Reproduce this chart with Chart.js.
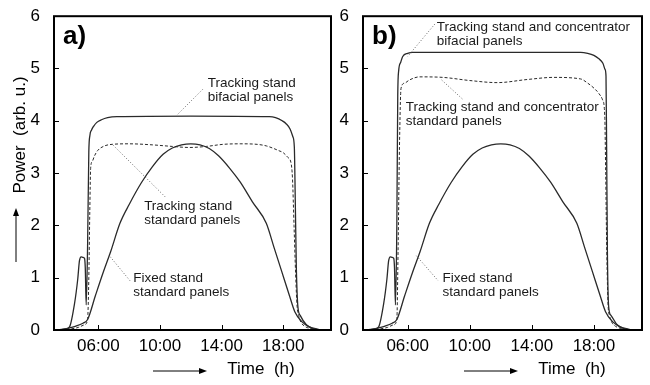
<!DOCTYPE html>
<html>
<head>
<meta charset="utf-8">
<script src="https://cdn.jsdelivr.net/npm/chart.js@4/dist/chart.umd.min.js"></script>
<style>
  body { margin: 0; background: #fff; }
  #wrap { position: relative; width: 650px; height: 385px; }
  canvas { position: absolute; top: 0; }
  #chartA { left: 0; }
  #chartB { left: 335px; }
</style>
</head>
<body>
<div id="wrap">
  <canvas id="chartA" width="335" height="385"></canvas>
  <canvas id="chartB" width="315" height="385"></canvas>
</div>
<script>
// Axis ticks
const tickHours = [6, 10, 14, 18];
const powerTicks = [0, 1, 2, 3, 4, 5, 6];

// Fixed stand, standard panels (both panels)
const fixedHours = [3.4, 4.0, 4.5, 5.0, 5.3, 5.8, 6.3, 6.8, 7.4, 8.0, 8.8, 9.5, 10.2, 10.8, 11.4, 12.0, 12.6, 13.2, 13.8, 14.5, 15.2, 16.0, 16.9, 17.4, 17.9, 18.4, 18.75, 19.2, 19.7, 20.3];
const fixedPower = [0, 0.03, 0.07, 0.13, 0.2, 0.65, 1.09, 1.5, 2.04, 2.4, 2.82, 3.12, 3.36, 3.48, 3.54, 3.56, 3.54, 3.47, 3.33, 3.1, 2.83, 2.45, 2.04, 1.58, 1.12, 0.66, 0.35, 0.16, 0.06, 0.01];

// a) Tracking stand, bifacial panels
const trackBifHours = [3.5, 3.9, 4.13, 4.45, 4.66, 4.77, 4.88, 5.0, 5.1, 5.15, 5.21, 5.3, 5.38, 5.45, 5.55, 5.7, 5.9, 6.2, 6.6, 7.2, 12.0, 17.1, 17.5, 17.93, 18.2, 18.45, 18.62, 18.72, 18.78, 18.85, 18.95, 19.1, 19.5, 19.9, 20.4];
const trackBifPower = [0, 0.02, 0.06, 0.5, 0.97, 1.32, 1.40, 1.39, 1.37, 1.19, 0.48, 1.6, 3.4, 3.72, 3.82, 3.9, 3.97, 4.02, 4.06, 4.08, 4.09, 4.08, 4.06, 4.0, 3.94, 3.84, 3.7, 3.5, 2.5, 1.2, 0.45, 0.28, 0.1, 0.03, 0];

// a) Tracking stand, standard panels
const trackStdHours = [3.6, 4.2, 4.7, 5.1, 5.3, 5.38, 5.44, 5.5, 5.6, 5.75, 5.95, 6.4, 6.9, 8.0, 9.5, 10.8, 11.9, 13.0, 14.1, 15.2, 16.3, 16.9, 17.3, 17.7, 18.0, 18.3, 18.5, 18.6, 18.7, 18.8, 18.9, 19.0, 19.15, 19.4, 19.9, 20.3];
const trackStdPower = [0, 0.02, 0.05, 0.1, 0.2, 1.0, 2.2, 3.1, 3.22, 3.33, 3.43, 3.52, 3.55, 3.56, 3.54, 3.51, 3.49, 3.51, 3.55, 3.56, 3.55, 3.52, 3.48, 3.43, 3.39, 3.3, 3.2, 2.9, 2.0, 1.1, 0.45, 0.28, 0.15, 0.07, 0.02, 0];

// b) Tracking stand and concentrator, bifacial panels
const concBifHours = [3.5, 3.9, 4.13, 4.45, 4.66, 4.77, 4.88, 5.0, 5.1, 5.15, 5.21, 5.3, 5.36, 5.42, 5.55, 5.68, 6.0, 6.32, 7.0, 12.0, 17.15, 17.6, 18.0, 18.3, 18.58, 18.72, 18.78, 18.82, 18.87, 18.95, 19.1, 19.5, 19.9, 20.4];
const concBifPower = [0, 0.02, 0.06, 0.5, 0.97, 1.32, 1.40, 1.39, 1.37, 1.19, 0.48, 2.0, 4.5, 4.96, 5.12, 5.23, 5.29, 5.31, 5.31, 5.31, 5.31, 5.29, 5.25, 5.19, 5.1, 4.98, 4.85, 3.5, 1.5, 0.45, 0.28, 0.1, 0.03, 0];

// b) Tracking stand and concentrator, standard panels
const concStdHours = [3.6, 4.2, 4.7, 5.1, 5.3, 5.38, 5.47, 5.57, 5.8, 6.11, 6.76, 8.27, 10.0, 11.77, 13.72, 15.4, 17.15, 17.6, 18.02, 18.3, 18.56, 18.7, 18.76, 18.83, 18.92, 19.0, 19.15, 19.4, 19.9, 20.3];
const concStdPower = [0, 0.02, 0.05, 0.1, 0.2, 1.5, 3.5, 4.62, 4.72, 4.78, 4.84, 4.83, 4.77, 4.73, 4.79, 4.83, 4.8, 4.72, 4.62, 4.53, 4.4, 4.1, 3.0, 1.5, 0.45, 0.28, 0.15, 0.07, 0.02, 0];

const family = '"Liberation Sans", Arial, sans-serif';
Chart.defaults.font.family = family;

function curve(hours, power, dashed) {
  return {
    data: hours.map((h, i) => ({ x: h, y: power[i] })),
    borderColor: '#2a2a2a',
    borderWidth: dashed ? 1 : 1.3,
    borderDash: dashed ? [3, 2] : [],
    pointRadius: 0,
    cubicInterpolationMode: 'monotone',
    fill: false
  };
}

function arrow(ctx, x1, y1, x2, y2) {
  const len = Math.hypot(x2 - x1, y2 - y1);
  ctx.save();
  ctx.translate(x2, y2);
  ctx.rotate(Math.atan2(y2 - y1, x2 - x1));
  ctx.strokeStyle = '#000';
  ctx.fillStyle = '#000';
  ctx.lineWidth = 1;
  ctx.beginPath();
  ctx.moveTo(-len, 0);
  ctx.lineTo(-5, 0);
  ctx.stroke();
  ctx.beginPath();
  ctx.moveTo(0, 0);
  ctx.lineTo(-8, -3);
  ctx.lineTo(-8, 3);
  ctx.closePath();
  ctx.fill();
  ctx.restore();
}

// frame, inward ticks, labels and titles
const decor = {
  id: 'decor',
  afterDraw(chart, args, o) {
    const ctx = chart.ctx, a = chart.chartArea;
    const xs = chart.scales.x, ys = chart.scales.y;
    ctx.save();
    ctx.strokeStyle = '#000';
    ctx.lineWidth = 1;
    ctx.beginPath();
    xs.ticks.forEach(t => {
      const px = Math.round(xs.getPixelForValue(t.value)) + 0.5;
      ctx.moveTo(px, a.bottom);
      ctx.lineTo(px, a.bottom - 5);
    });
    ys.ticks.forEach(t => {
      const py = Math.round(ys.getPixelForValue(t.value)) + 0.5;
      ctx.moveTo(a.left, py);
      ctx.lineTo(a.left + 5, py);
    });
    ctx.stroke();
    ctx.lineWidth = 2;
    ctx.strokeRect(a.left, a.top, a.right - a.left, a.bottom - a.top);

    ctx.font = '13.5px ' + family;
    o.notes.forEach(n => {
      ctx.strokeStyle = '#666';
      ctx.lineWidth = 1;
      ctx.setLineDash([1, 2]);
      ctx.beginPath();
      ctx.moveTo(xs.getPixelForValue(n.from[0]), ys.getPixelForValue(n.from[1]));
      ctx.lineTo(xs.getPixelForValue(n.to[0]), ys.getPixelForValue(n.to[1]));
      ctx.stroke();
      ctx.setLineDash([]);
      ctx.fillStyle = '#1a1a1a';
      const nx = xs.getPixelForValue(n.x), ny = ys.getPixelForValue(n.y);
      n.lines.forEach((s, i) => ctx.fillText(s, nx, ny + i * 14));
    });

    ctx.fillStyle = '#000';
    ctx.font = 'bold 26px ' + family;
    ctx.fillText(o.panel, a.left + 9, a.top + 28);

    const cx = a.right - 70;
    ctx.font = '17px ' + family;
    ctx.textAlign = 'center';
    ctx.fillText('Time  (h)', cx, a.bottom + 44);
    arrow(ctx, cx - 108, a.bottom + 41, cx - 54, a.bottom + 41);

    if (o.yTitle) {
      ctx.save();
      ctx.translate(25, 135);
      ctx.rotate(-Math.PI / 2);
      ctx.fillText('Power  (arb. u.)', 0, 0);
      ctx.restore();
      arrow(ctx, 16, 262, 16, 208);
    }
    ctx.restore();
  }
};

function makeChart(id, datasets, yWidth, padRight, decorOpts) {
  return new Chart(document.getElementById(id), {
    type: 'line',
    data: { datasets: datasets },
    plugins: [decor],
    options: {
      responsive: false,
      animation: false,
      layout: { padding: { left: 0, top: 12, right: padRight, bottom: 0 } },
      scales: {
        x: {
          type: 'linear',
          min: 3.12,
          max: 21.1,
          grid: { display: false },
          border: { display: false },
          afterBuildTicks: s => { s.ticks = tickHours.map(v => ({ value: v })); },
          afterFit: s => { s.height = 55; },
          ticks: {
            padding: -2,
            color: '#000',
            font: { size: 17 },
            callback: v => String(v).padStart(2, '0') + ':00'
          }
        },
        y: {
          min: 0,
          max: 6,
          grid: { display: false },
          border: { display: false },
          afterBuildTicks: s => { s.ticks = powerTicks.map(v => ({ value: v })); },
          afterFit: s => { s.width = yWidth; },
          ticks: { padding: 6, color: '#000', font: { size: 17 } }
        }
      },
      plugins: {
        legend: { display: false },
        tooltip: { enabled: false },
        decor: decorOpts
      }
    }
  });
}

makeChart('chartA', [
  curve(fixedHours, fixedPower, false),
  curve(trackBifHours, trackBifPower, false),
  curve(trackStdHours, trackStdPower, true)
], 54, 4, {
  panel: 'a)',
  yTitle: true,
  notes: [
    { x: 13.1, y: 4.64, lines: ['Tracking stand', 'bifacial panels'], from: [12.77, 4.6], to: [11.1, 4.11] },
    { x: 8.97, y: 2.29, lines: ['Tracking stand', 'standard panels'], from: [6.97, 3.53], to: [10.39, 2.53] },
    { x: 8.26, y: 0.92, lines: ['Fixed stand', 'standard panels'], from: [6.77, 1.40], to: [8.06, 0.94] }
  ]
});

makeChart('chartB', [
  curve(fixedHours, fixedPower, false),
  curve(concBifHours, concBifPower, false),
  curve(concStdHours, concStdPower, true)
], 28, 8, {
  panel: 'b)',
  yTitle: false,
  notes: [
    { x: 7.88, y: 5.72, lines: ['Tracking stand and concentrator', 'bifacial panels'], from: [7.75, 5.85], to: [6.0, 5.23] },
    { x: 5.87, y: 4.19, lines: ['Tracking stand and concentrator', 'standard panels'], from: [8.19, 4.78], to: [9.59, 4.40] },
    { x: 8.25, y: 0.92, lines: ['Fixed stand', 'standard panels'], from: [6.56, 1.42], to: [7.97, 0.94] }
  ]
});
</script>
</body>
</html>
